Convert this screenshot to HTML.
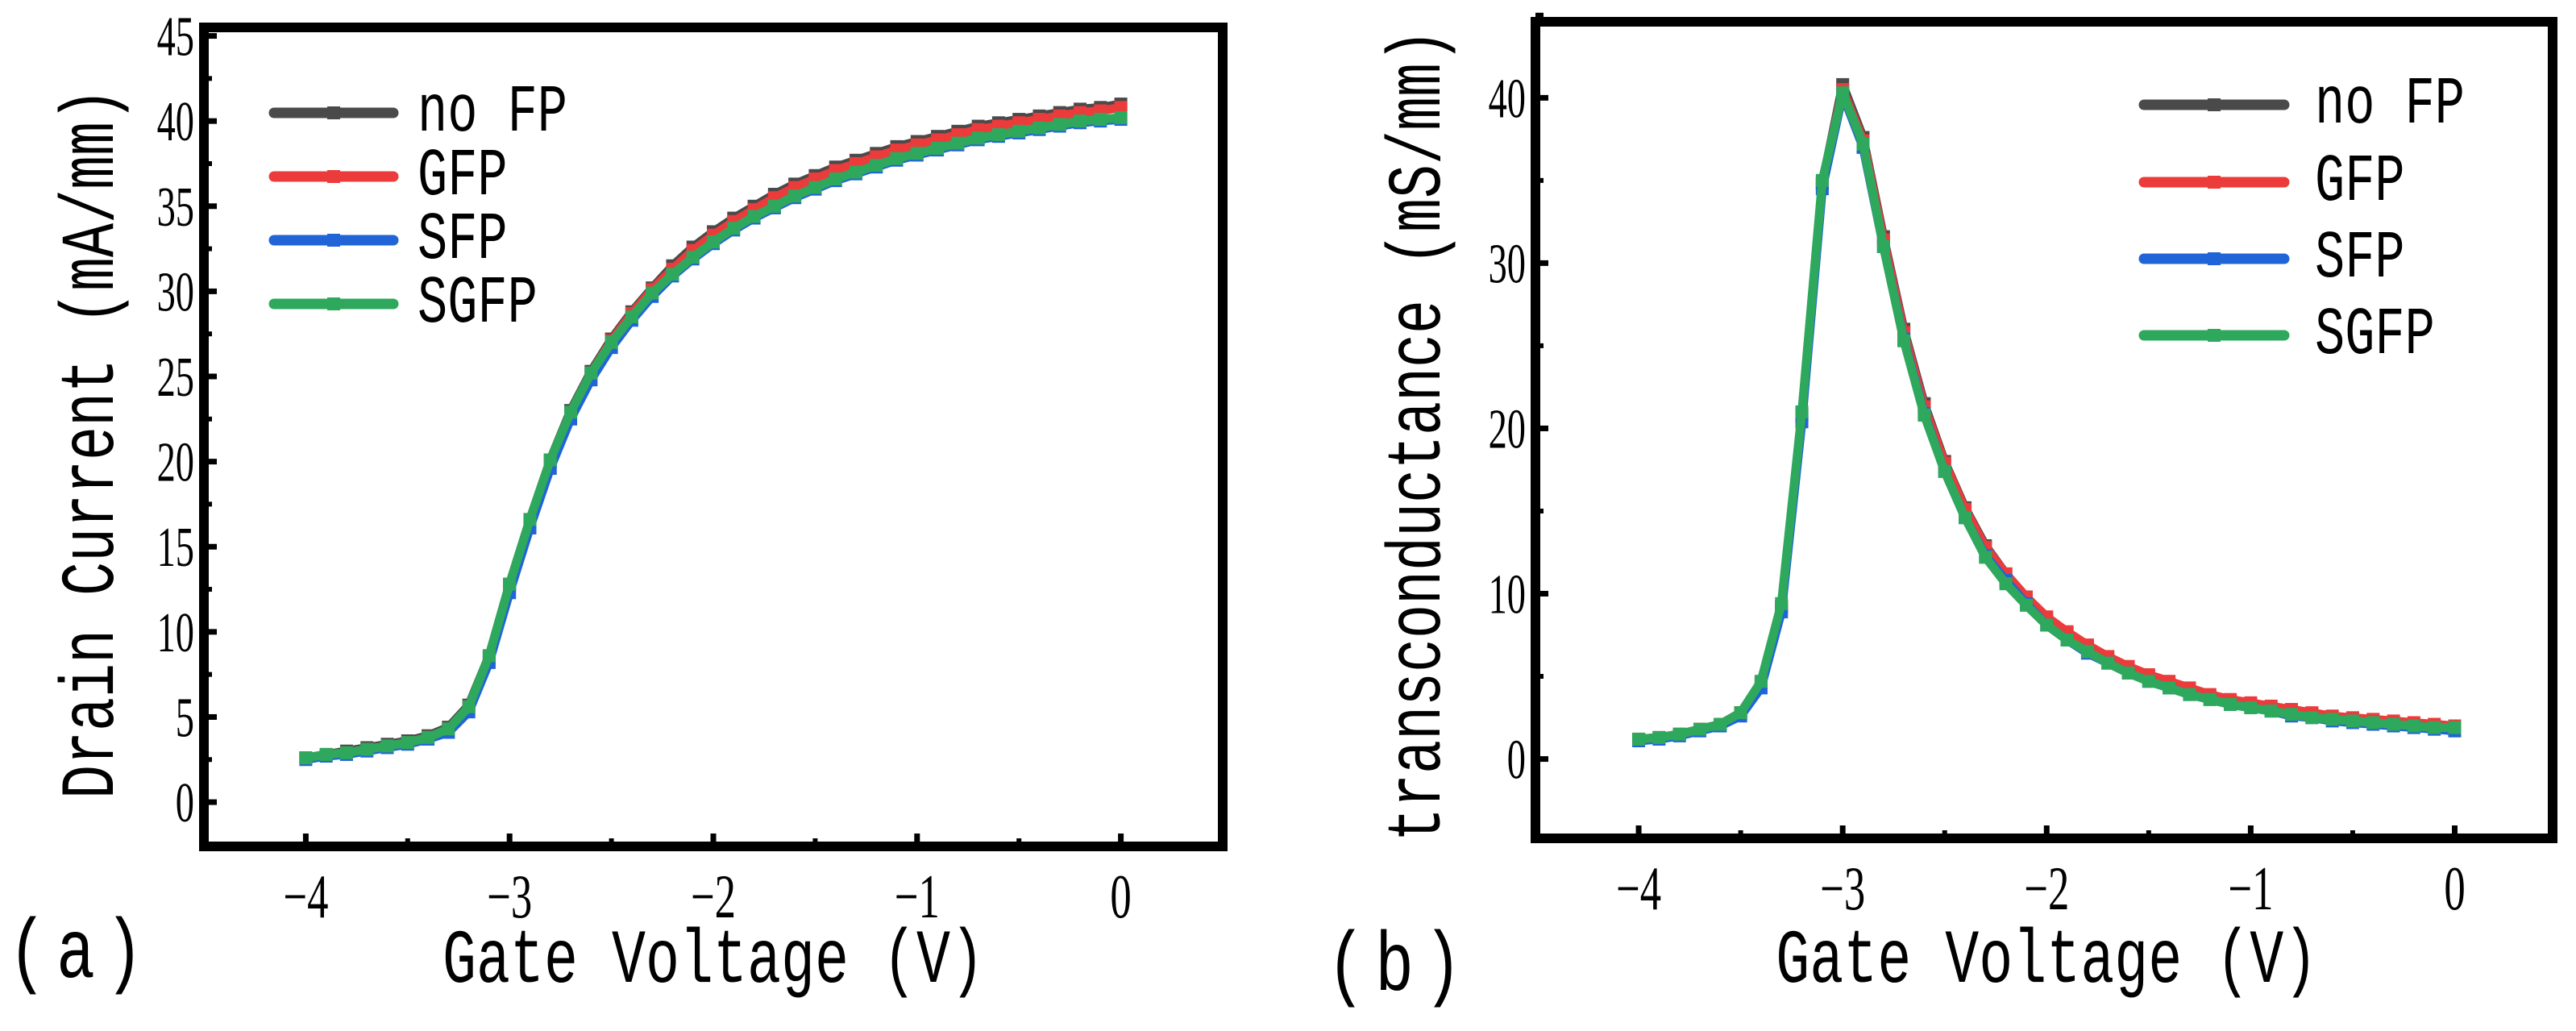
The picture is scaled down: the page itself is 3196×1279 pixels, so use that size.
<!DOCTYPE html>
<html><head><meta charset="utf-8"><style>
html,body{margin:0;padding:0;background:#fff;}
svg{display:block;}
text{font-family:"Liberation Serif",serif;fill:#000;}
.mono{font-family:"Liberation Mono",monospace;}
</style></head><body>
<svg id="fig" width="3196" height="1279" viewBox="0 0 3196 1279" xmlns="http://www.w3.org/2000/svg"></svg>
<script>
const vg = [-4,-3.9,-3.8,-3.7,-3.6,-3.5,-3.4,-3.3,-3.2,-3.1,-3,-2.9,-2.8,-2.7,-2.6,-2.5,-2.4,-2.3,-2.2,-2.1,-2,-1.9,-1.8,-1.7,-1.6,-1.5,-1.4,-1.3,-1.2,-1.1,-1,-0.9,-0.8,-0.7,-0.6,-0.5,-0.4,-0.3,-0.2,-0.1,0];
const idNoFP = [2.6,2.8,3.0,3.2,3.4,3.6,3.9,4.4,5.7,8.6,12.8,16.6,20.1,23.0,25.3,27.2,28.8,30.2,31.5,32.6,33.5,34.3,35.0,35.7,36.3,36.8,37.3,37.7,38.1,38.5,38.8,39.1,39.4,39.7,39.9,40.1,40.3,40.5,40.7,40.8,41.0];
const idGFP  = [2.6,2.8,2.9,3.1,3.3,3.5,3.8,4.3,5.6,8.5,12.7,16.5,20.0,22.9,25.2,27.1,28.7,30.1,31.3,32.4,33.3,34.1,34.8,35.5,36.1,36.6,37.1,37.5,37.9,38.3,38.6,38.9,39.2,39.5,39.7,39.9,40.1,40.3,40.5,40.6,40.8];
const idSFP  = [2.5,2.7,2.8,3.0,3.2,3.4,3.7,4.1,5.3,8.2,12.3,16.1,19.6,22.5,24.8,26.7,28.3,29.7,30.9,31.9,32.8,33.6,34.3,34.9,35.5,36.0,36.5,36.9,37.3,37.7,38.0,38.3,38.6,38.9,39.1,39.3,39.5,39.7,39.9,40.0,40.1];
const idSGFP = [2.6,2.8,2.9,3.1,3.3,3.5,3.8,4.3,5.6,8.6,12.8,16.6,20.1,22.9,25.2,27.0,28.5,29.9,31.0,32.0,32.9,33.7,34.4,35.0,35.6,36.1,36.6,37.0,37.4,37.8,38.1,38.4,38.7,39.0,39.2,39.4,39.6,39.8,40.0,40.1,40.2];
const gmNoFP = [1.2,1.3,1.5,1.8,2.1,2.8,4.6,9.2,20.8,34.8,40.8,37.6,31.6,26.0,21.5,18.0,15.2,12.9,11.2,9.8,8.5,7.6,6.8,6.1,5.5,5.0,4.5,4.1,3.8,3.5,3.3,3.1,2.9,2.7,2.5,2.4,2.3,2.2,2.1,2.0,2.0];
const gmGFP  = [1.2,1.3,1.5,1.8,2.1,2.8,4.6,9.2,20.8,34.8,40.5,37.4,31.4,25.8,21.3,17.9,15.1,12.8,11.2,9.8,8.6,7.7,6.9,6.2,5.6,5.1,4.7,4.3,3.9,3.6,3.4,3.2,3.0,2.8,2.6,2.5,2.4,2.3,2.2,2.1,2.0];
const gmSFP  = [1.1,1.2,1.4,1.7,2.0,2.6,4.3,8.9,20.4,34.5,40.2,37.0,31.0,25.4,20.9,17.4,14.6,12.3,10.8,9.4,8.1,7.2,6.4,5.8,5.2,4.7,4.3,3.9,3.6,3.3,3.1,2.9,2.6,2.5,2.3,2.2,2.1,2.0,1.9,1.8,1.7];
const gmSGFP = [1.2,1.3,1.5,1.8,2.1,2.8,4.7,9.4,21.0,35.0,40.3,37.2,31.0,25.3,20.8,17.4,14.6,12.2,10.6,9.3,8.1,7.2,6.5,5.8,5.2,4.7,4.3,3.9,3.6,3.3,3.1,2.9,2.7,2.5,2.4,2.3,2.2,2.1,2.0,1.9,1.9];
const xTicks = [-4,-3,-2,-1,0];
const xTickLabels = ["\u22124","\u22123","\u22122","\u22121","0"];
const yTicksA = [0,5,10,15,20,25,30,35,40,45];
const yTicksB = [0,10,20,30,40];
const seriesNames = ["no FP","GFP","SFP","SGFP"];
const colors = ["#4a4a4a","#ec3b3b","#2064d8","#2ea85c"];

const NS = "http://www.w3.org/2000/svg";
const svg = document.getElementById('fig');
function mk(tag, attrs, parent){
  const e = document.createElementNS(NS, tag);
  for (const k in attrs) e.setAttribute(k, attrs[k]);
  (parent||svg).appendChild(e);
  return e;
}
function drawPanel(cfg){
  const g = mk('g', {});
  
  
  const sx = v => cfg.L + (v - cfg.xmin) / (cfg.xmax - cfg.xmin) * (cfg.R - cfg.L);
  const sy = v => cfg.B - (v - cfg.ymin) / (cfg.ymax - cfg.ymin) * (cfg.B - cfg.T);
  cfg.series.forEach((s, i) => {
    const pts = vg.map((x, j) => sx(x).toFixed(1) + ',' + sy(s[j]).toFixed(1)).join(' ');
    const pl = mk('polyline', {points: pts, fill: 'none', stroke: colors[i], 'stroke-width': 11, 'stroke-linejoin': 'round', 'stroke-linecap': 'round'}, g);
    
    
    vg.forEach((x, j) => {
      const m = mk('rect', {x: sx(x) - 8, y: sy(s[j]) - 8, width: 16, height: 16, fill: colors[i]}, g);
      
      
    });
  });
  const fr = mk('rect', {x: cfg.L, y: cfg.T, width: cfg.R - cfg.L, height: cfg.B - cfg.T, fill: 'none', stroke: '#000', 'stroke-width': 12}, g);
  
  
  xTicks.forEach((t, i) => {
    mk('line', {x1: sx(t), x2: sx(t), y1: cfg.B, y2: cfg.B - 16, stroke: '#000', 'stroke-width': 7}, g);
    if (i < xTicks.length - 1) mk('line', {x1: sx(t + 0.5), x2: sx(t + 0.5), y1: cfg.B, y2: cfg.B - 10, stroke: '#000', 'stroke-width': 6}, g);
    const tx = mk('text', {x: 0, y: 0, 'font-size': 62, 'text-anchor': 'middle', transform: `translate(${sx(t)},${cfg.B + 88}) scale(0.85,1.25)`}, g);
    tx.textContent = xTickLabels[i];
    
    
  });
  cfg.yTicks.forEach((t, i) => {
    mk('line', {x1: cfg.L, x2: cfg.L + 16, y1: sy(t), y2: sy(t), stroke: '#000', 'stroke-width': 7}, g);
    mk('line', {x1: cfg.L, x2: cfg.L + 10, y1: sy(t + cfg.yStep / 2), y2: sy(t + cfg.yStep / 2), stroke: '#000', 'stroke-width': 6}, g);
    const tx = mk('text', {x: 0, y: 0, 'font-size': 58, 'text-anchor': 'end', transform: `translate(${cfg.L - 12},${sy(t) + 24}) scale(0.8,1.2)`}, g);
    tx.textContent = String(t);
    
    
  });
  const xt = mk('text', {class: 'mono', x: 0, y: 0, 'font-size': 70, 'text-anchor': 'middle', transform: `translate(${(sx(-4) + sx(0)) / 2},${cfg.xTitleY}) scale(1,1.35)`}, g);
  xt.textContent = 'Gate Voltage (V)';
  
  
  const yt = mk('text', {class: 'mono', x: 0, y: 0, 'font-size': 70, 'text-anchor': 'middle', transform: `translate(${cfg.yTitleX},${cfg.yTitleY}) rotate(-90) scale(1,1.35)`}, g);
  yt.textContent = cfg.yTitle;
  
  
  seriesNames.forEach((n, i) => {
    const y = cfg.legY[i];
    const ln = mk('line', {x1: cfg.legX1, x2: cfg.legX2, y1: y, y2: y, stroke: colors[i], 'stroke-width': 13, 'stroke-linecap': 'round'}, g);
    
    
    mk('rect', {x: (cfg.legX1 + cfg.legX2) / 2 - 8, y: y - 8, width: 16, height: 16, fill: colors[i]}, g);
    const tx = mk('text', {class: 'mono', x: 0, y: 0, 'font-size': 62, transform: `translate(${cfg.legTX},${y + 22}) scale(1,1.35)`}, g);
    tx.textContent = n;
    
    
  });
  const pl = mk('text', {class: 'mono', x: 0, y: 0, 'font-size': 80, 'letter-spacing': 12, transform: `translate(${cfg.labX},${cfg.labY}) scale(1,1.3)`}, g);
  pl.textContent = cfg.label;
  
  
}
drawPanel({name: 'panel-a-drain-current', L: 253, R: 1517, T: 34, B: 1050, xmin: -4.5, xmax: 0.5, ymin: -2.6, ymax: 45.5,
  series: [idNoFP, idGFP, idSFP, idSGFP], yTicks: yTicksA, yStep: 5,
  xTitleY: 1218, yTitleX: 140, yTitleY: 550, yTitle: 'Drain Current (mA/mm)',
  legX1: 340, legX2: 488, legTX: 518, legY: [140, 219, 298, 377], label: '(a)', labX: 10, labY: 1212});
drawPanel({name: 'panel-b-transconductance', L: 1905, R: 3167, T: 27, B: 1040, xmin: -4.506, xmax: 0.48, ymin: -4.8, ymax: 44.6,
  series: [gmNoFP, gmGFP, gmSFP, gmSGFP], yTicks: yTicksB, yStep: 10,
  xTitleY: 1218, yTitleX: 1786, yTitleY: 540, yTitle: 'transconductance (mS/mm)',
  legX1: 2660, legX2: 2834, legTX: 2872, legY: [130, 226, 321, 416], label: '(b)', labX: 1646, labY: 1228});
</script>
</body></html>
